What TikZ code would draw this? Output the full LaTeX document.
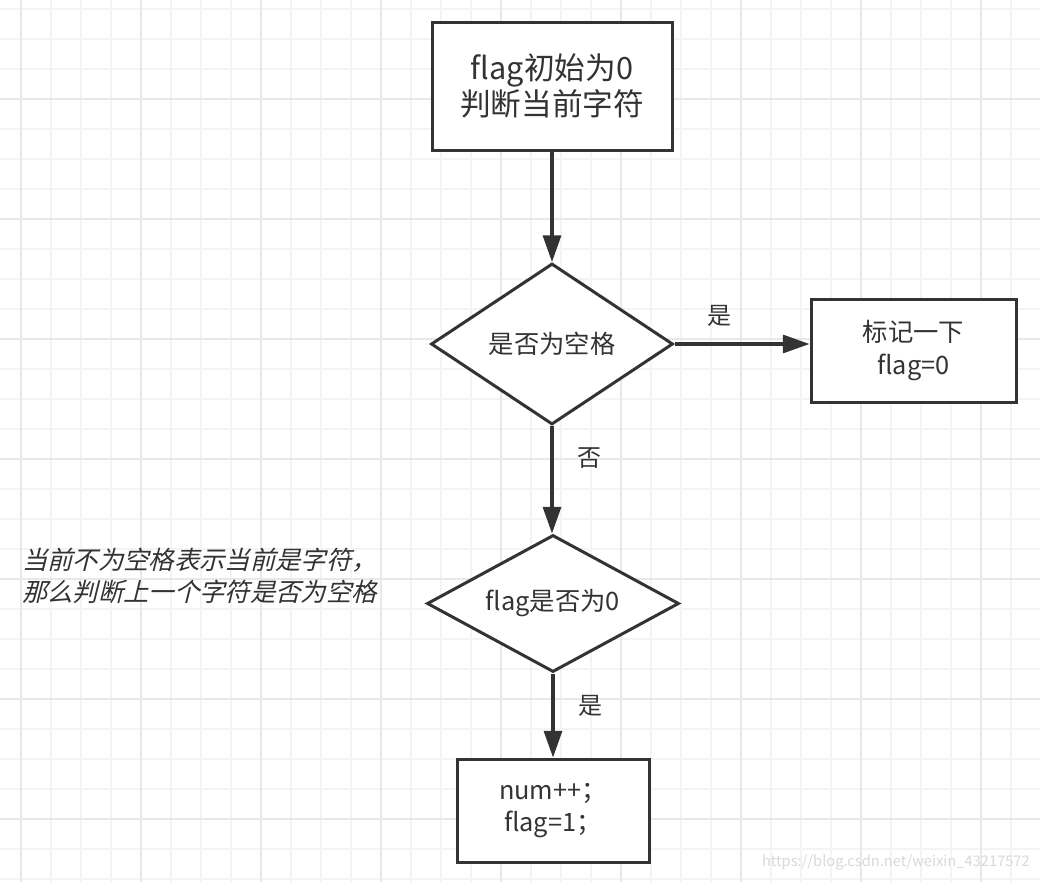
\documentclass[tikz,border=0pt]{standalone}
\usepackage{fontspec}
\setmainfont{Noto Sans CJK SC}
\newfontfamily\notefont{Noto Sans CJK SC}[FakeSlant=0.25]
\usetikzlibrary{shapes.geometric,arrows.meta}
\definecolor{inkgray}{HTML}{333333}
\definecolor{gridminor}{HTML}{F4F4F4}
\definecolor{gridmajor}{HTML}{E8E8E8}
\definecolor{markgray}{HTML}{D9D9D9}
\tikzset{
  stepbox/.style={draw=inkgray, fill=white, line width=2.25pt, text=inkgray,
    align=center, inner sep=0pt},
  decision/.style={diamond, aspect=1.5, draw=inkgray, fill=white, line width=2.25pt,
    text=inkgray, align=center, inner sep=0pt},
  flow/.style={draw=inkgray, line width=2.4pt, -{Triangle[length=20pt,width=13.5pt]}},
  answer/.style={text=inkgray, inner sep=0pt, font=\fontsize{18}{20}\selectfont},
}
\begin{document}
\begin{tikzpicture}[x=0.75pt, y=-0.75pt]
    \useasboundingbox (0,0) rectangle (1040,882);
    \fill[white] (0,0) rectangle (1040,882);

    % grid
    \foreach \gx in {21,51,...,1041}
        \draw[gridminor, line width=1.5pt] (\gx,0) -- (\gx,882);
    \foreach \gy in {9,39,...,879}
        \draw[gridminor, line width=1.5pt] (0,\gy) -- (1040,\gy);
    \foreach \gx in {21,141,...,1041}
        \draw[gridmajor, line width=1.5pt] (\gx,0) -- (\gx,882);
    \foreach \gy in {99,219,...,879}
        \draw[gridmajor, line width=1.5pt] (0,\gy) -- (1040,\gy);

    % nodes
    \node[stepbox, minimum width=180pt, minimum height=96pt,
          font=\fontsize{23}{27}\selectfont] (start) at (552,86)
          {flag初始为0\\判断当前字符};
    \node[decision, minimum width=181.5pt, minimum height=120.75pt,
          font=\fontsize{19}{22}\selectfont] (isspace) at (552,344) {是否为空格};
    \node[stepbox, minimum width=153.75pt, minimum height=77.25pt,
          font=\fontsize{19}{24.75}\selectfont] (mark) at (913.5,350.5)
          {标记一下\\flag=0};
    \node[decision, minimum width=189pt, minimum height=102.75pt,
          font=\fontsize{19}{22}\selectfont] (isflag) at (553,603.5) {flag是否为0};
    \node[stepbox, minimum width=144pt, minimum height=77.25pt,
          font=\fontsize{19}{24}\selectfont] (count) at (553,810.5)
          {num++；\\flag=1；};

    % connectors
    \draw[flow] (start) -- (isspace);
    \draw[flow] (isspace.east) -- node[answer, pos=0.33, above=12pt]{是}
        (isspace.east -| mark.west);
    \draw[flow] (isspace.south) -- node[answer, pos=0.3, right=18pt]{否}
        (isspace.south |- isflag.north);
    \draw[flow] (isflag) -- node[answer, pos=0.38, right=18pt]{是} (count);

    % remarks
    \node[anchor=west, align=left, text=inkgray, inner sep=0pt,
          font=\notefont\fontsize{19}{24}\selectfont] (note) at (22,576)
          {当前不为空格表示当前是字符，\\那么判断上一个字符是否为空格};
    \node[anchor=east, text=markgray, inner sep=0pt,
          font=\fontsize{11}{13}\selectfont] (site) at (1030,862)
          {https://blog.csdn.net/weixin\_43217572};
\end{tikzpicture}
\end{document}
